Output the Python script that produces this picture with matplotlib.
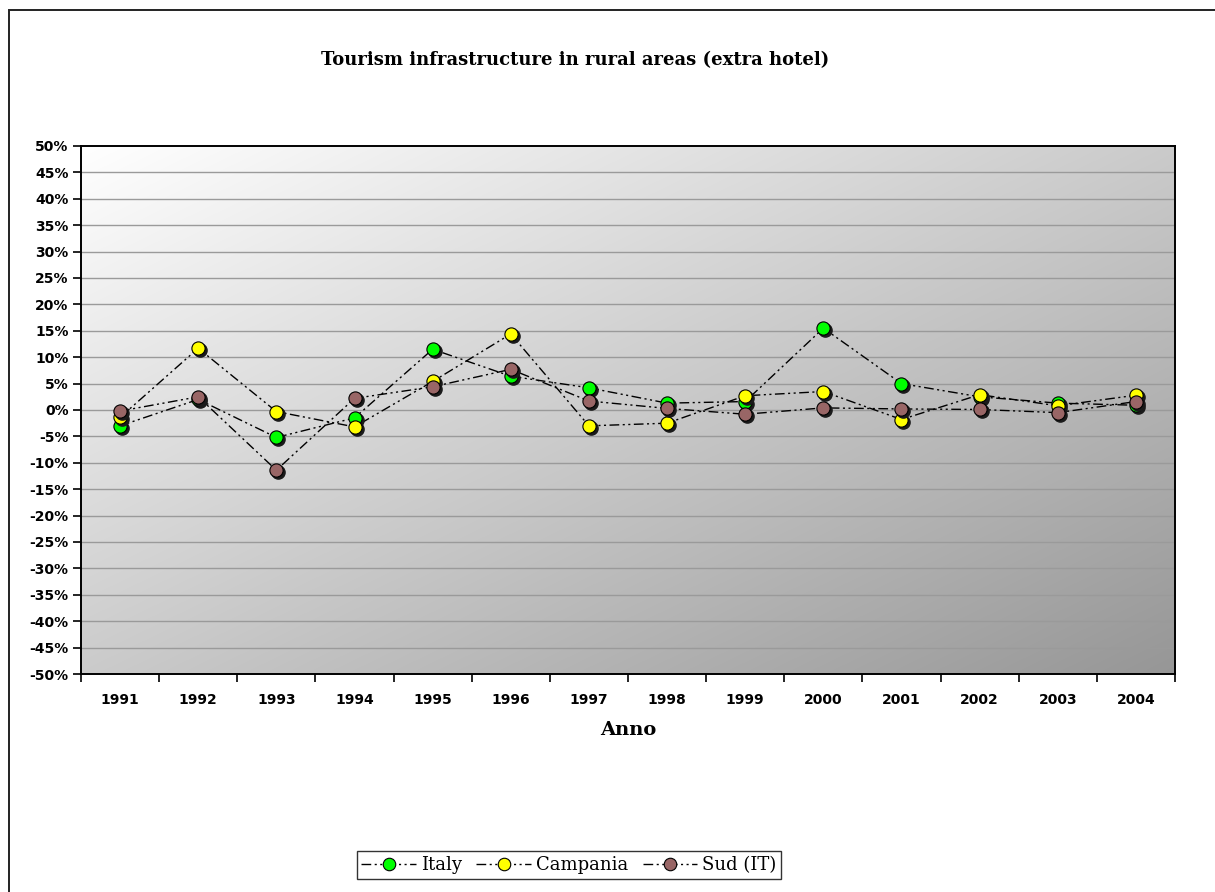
import numpy as np
import matplotlib
matplotlib.use("Agg")
import matplotlib.pyplot as plt
import matplotlib.patches as mpatches
import matplotlib.transforms as mtransforms
from matplotlib.lines import Line2D
from matplotlib.ticker import FixedLocator, FuncFormatter

# Yearly growth rates (%) of extra-hotel tourism facilities
years = ["1991", "1992", "1993", "1994", "1995", "1996", "1997",
         "1998", "1999", "2000", "2001", "2002", "2003", "2004"]
italy = [-3.0, 2.0, -5.2, -1.5, 11.5, 6.4, 4.2, 1.3, 1.6, 15.5, 5.0, 2.5, 1.3, 0.9]
campania = [-1.4, 11.7, -0.3, -3.2, 5.4, 14.4, -3.0, -2.5, 2.7, 3.5, -1.8, 2.9, 0.8, 2.8]
sud = [-0.2, 2.5, -11.4, 2.2, 4.4, 7.7, 1.7, 0.3, -0.8, 0.4, 0.2, 0.1, -0.5, 1.6]

series = [("Italy", italy, "#00ff00"),
          ("Campania", campania, "#ffff00"),
          ("Sud (IT)", sud, "#996666")]

W, H = 1215, 892
fig = plt.figure(figsize=(W / 100, H / 100), dpi=100)
fig.patch.set_facecolor("white")

# outer chart frame
fig.patches.append(mpatches.Rectangle((9 / W, -0.1), 1.2, (H - 10) / H + 0.1,
                                      transform=fig.transFigure, fill=False,
                                      edgecolor="#222222", linewidth=1.4))

ax = fig.add_axes([81 / W, 1 - 674 / H, (1175 - 81) / W, (674 - 146) / H])
x = np.arange(len(years))
ax.set_xlim(-0.5, len(years) - 0.5)
ax.set_ylim(-50, 50)

# diagonal gradient: white in the upper left, grey in the lower right
gy, gx = np.mgrid[0:1:200j, 0:1:200j]
t = (gx + gy) / 2.0
shade = 1.0 - 0.41 * t
img = np.dstack([shade, shade, shade])
ax.imshow(img, extent=[0, 1, 0, 1], transform=ax.transAxes, aspect="auto",
          origin="upper", zorder=0, interpolation="bilinear")

# horizontal gridlines
for v in range(-45, 50, 5):
    ax.axhline(v, color="#9a9a9a", linewidth=1.0, zorder=1)

dash = (0, (7, 2.5, 1.5, 2.5, 1.5, 2.5))
for name, vals, col in series:
    ax.plot(x, vals, color="black", linewidth=1.0, linestyle=dash, zorder=2)

shadow_tr = mtransforms.offset_copy(ax.transData, fig=fig, x=2, y=-2, units="dots")
for i, (name, vals, col) in enumerate(series):
    ax.plot(x, vals, linestyle="none", marker="o", markersize=9.5,
            markerfacecolor="#1a1a1a", markeredgecolor="#1a1a1a",
            transform=shadow_tr, zorder=3 + 2 * i)
    ax.plot(x, vals, linestyle="none", marker="o", markersize=9.5,
            markerfacecolor=col, markeredgecolor="black", markeredgewidth=0.8,
            zorder=4 + 2 * i)

# axes styling
for s in ax.spines.values():
    s.set_color("black")
    s.set_linewidth(1.4)
    s.set_zorder(20)

ax.yaxis.set_major_locator(FixedLocator(np.arange(-50, 51, 5)))
ax.yaxis.set_major_formatter(FuncFormatter(lambda v, p: f"{int(round(v))}%"))
ax.tick_params(axis="y", direction="out", length=6, width=1.2, pad=3)
for lab in ax.get_yticklabels():
    lab.set_fontfamily("DejaVu Sans")
    lab.set_fontweight("bold")
    lab.set_fontsize(10)

ax.set_xticks(x)
ax.set_xticklabels(years, fontfamily="DejaVu Sans", fontweight="bold", fontsize=10)
ax.tick_params(axis="x", which="major", length=0, pad=14)
ax.set_xticks(np.arange(-0.5, len(years), 1.0), minor=True)
ax.tick_params(axis="x", which="minor", direction="out", length=6, width=1.2)

ax.set_xlabel("Anno", fontfamily="DejaVu Serif", fontweight="bold", fontsize=14, labelpad=10)

fig.text(575 / W, 1 - 60 / H, "Tourism infrastructure in rural areas (extra hotel)",
         ha="center", va="center", fontfamily="DejaVu Serif", fontweight="bold",
         fontsize=13)

handles = [Line2D([], [], color="black", linewidth=1.0, linestyle=dash,
                  marker="o", markersize=9, markerfacecolor=col,
                  markeredgecolor="black", markeredgewidth=0.8)
           for _, _, col in series]
leg = fig.legend(handles, [s[0] for s in series], loc="center",
                 bbox_to_anchor=(569 / W, 1 - 865 / H), ncol=3,
                 prop={"family": "DejaVu Serif", "size": 13},
                 frameon=True, fancybox=False, handlelength=3.0,
                 handletextpad=0.3, columnspacing=0.8, borderpad=0.25)
leg.get_frame().set_edgecolor("black")
leg.get_frame().set_linewidth(1.0)

fig.savefig("out.png", dpi=100)
